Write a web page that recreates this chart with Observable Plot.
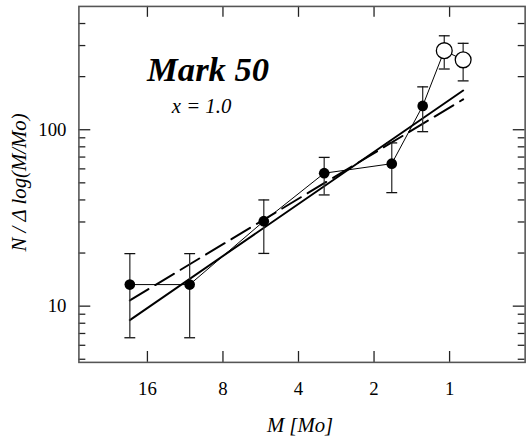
<!DOCTYPE html>
<html><head><meta charset="utf-8">
<script src="https://cdn.jsdelivr.net/npm/d3@7"></script>
<script src="https://cdn.jsdelivr.net/npm/@observablehq/plot@0.6"></script>
<style>
html,body{margin:0;padding:0;overflow:hidden;background:#fff}
svg text{font-family:"Liberation Serif",Tinos,"Times New Roman",Times,"Nimbus Roman","DejaVu Serif",serif !important;}
</style>
</head><body><div id="chart"></div>
<script>
const mass = [18.8, 10.86, 5.50, 3.16, 1.70, 1.28, 1.05, 0.883];
const counts = [13.25, 13.25, 30.3, 56.7, 64.2, 136.4, 280.7, 249];
const errLow = [6.62, 6.62, 19.9, 42.7, 44.0, 97.5, 220.9, 189.2];
const errHigh = [19.85, 19.85, 40, 69.7, 84.2, 175, 340.8, 308.9];
const isOpen = [false, false, false, false, false, false, true, true];
const fitMass = [18.8, 0.883];
const fitSolid = [8.33, 166.9];
const fitDashed = [10.78, 148.6];
const xTicks = [16, 8, 4, 2, 1];
const yMajor = [10, 100];
const yMinor = [5, 6, 7, 8, 9, 20, 30, 40, 50, 60, 70, 80, 90, 200, 300, 400];
const titleText = "Mark 50";
const subText = "x = 1.0";
const xLabel = "M [Mo]";
const yLabel = "N / \u0394 log(M/Mo)";

const points = mass.map((m, i) => ({m, n: counts[i], lo: errLow[i], hi: errHigh[i], open: isOpen[i]}));
const fits = fitMass.map((m, i) => ({m, solid: fitSolid[i], dashed: fitDashed[i]}));
const cap = {draw(ctx, size) { const r = Math.sqrt(size / Math.PI); ctx.moveTo(-r, 0); ctx.lineTo(r, 0); }};

const font = "Liberation Serif";
const tickColor = "#222";
const W = 534, H = 442, ML = 79.3, MR = 3.4, MT = 6, MB = 76;
const FW = W - ML - MR, FH = H - MT - MB;

const chart = Plot.plot({
  width: W,
  height: H,
  marginLeft: ML,
  marginRight: MR,
  marginTop: MT,
  marginBottom: MB,
  style: "font-family: 'Liberation Serif', serif; font-size: 19px; background: #fff; color: #000;",
  x: {type: "log", domain: [30, 0.5], axis: null},
  y: {type: "log", domain: [4.8, 500], axis: null},
  marks: [
    Plot.axisY({anchor: "left", ticks: yMajor, tickSize: 0, tickPadding: 12.6, tickFormat: d => String(d), fontSize: 19, fontFamily: font, label: null}),
    Plot.tickY(yMajor, {y: d => d, insetRight: FW - 12, stroke: tickColor, strokeWidth: 1.3}),
    Plot.tickY(yMinor, {y: d => d, insetRight: FW - 7, stroke: tickColor, strokeWidth: 1.3}),
    Plot.tickY(yMajor, {y: d => d, insetLeft: FW - 12, stroke: tickColor, strokeWidth: 1.3}),
    Plot.tickY(yMinor, {y: d => d, insetLeft: FW - 7, stroke: tickColor, strokeWidth: 1.3}),
    Plot.tickX(xTicks, {x: d => d, insetTop: FH - 11, stroke: tickColor, strokeWidth: 1.3}),
    Plot.tickX(xTicks, {x: d => d, insetBottom: FH - 11, stroke: tickColor, strokeWidth: 1.3}),
    Plot.text(xTicks, {x: d => d, text: d => String(d), frameAnchor: "bottom", dy: 19, lineAnchor: "top", fontSize: 19, fontFamily: font, fill: "#000"}),
    Plot.frame({stroke: "#555", strokeWidth: 1.6}),
    Plot.line(fits, {x: "m", y: "solid", stroke: "#000", strokeWidth: 2}),
    Plot.line(fits, {x: "m", y: "dashed", stroke: "#000", strokeWidth: 2, strokeDasharray: "22,8"}),
    Plot.line(points, {x: "m", y: "n", stroke: "#000", strokeWidth: 1}),
    Plot.ruleX(points, {x: "m", y1: "lo", y2: "hi", stroke: "#333", strokeWidth: 1.3}),
    Plot.dot(points, {x: "m", y: "hi", symbol: cap, r: 5.5, stroke: "#111", strokeWidth: 1.3, fill: "none"}),
    Plot.dot(points, {x: "m", y: "lo", symbol: cap, r: 5.5, stroke: "#111", strokeWidth: 1.3, fill: "none"}),
    Plot.dot(points.filter(d => !d.open), {x: "m", y: "n", r: 5.4, fill: "#000", stroke: "none"}),
    Plot.dot(points.filter(d => d.open), {x: "m", y: "n", r: 8, fill: "#fff", stroke: "#000", strokeWidth: 1.3}),
    Plot.text([titleText], {frameAnchor: "top-left", dx: 130.7, dy: 64.5, textAnchor: "middle", lineAnchor: "middle", fontSize: 35, fontWeight: "bold", fontStyle: "italic", fontFamily: font, fill: "#000"}),
    Plot.text([subText], {frameAnchor: "top-left", dx: 124, dy: 100.6, textAnchor: "middle", lineAnchor: "middle", fontSize: 21, fontStyle: "italic", fontFamily: font, fill: "#000"}),
    Plot.text([xLabel], {frameAnchor: "bottom", dx: -2, dy: 63.3, textAnchor: "middle", lineAnchor: "middle", fontSize: 21, fontStyle: "italic", fontFamily: font, fill: "#000"}),
    Plot.text([yLabel], {frameAnchor: "left", dx: -60, dy: -2, rotate: -90, textAnchor: "middle", lineAnchor: "middle", fontSize: 21, fontStyle: "italic", fontFamily: font, fill: "#000"})
  ]
});
document.getElementById("chart").appendChild(chart);
</script>
</body></html>
